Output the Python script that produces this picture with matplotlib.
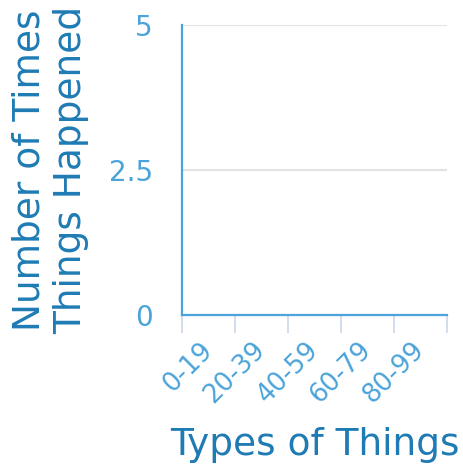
import numpy as np
import matplotlib
matplotlib.use('Agg')
import matplotlib.pyplot as plt
import matplotlib.transforms as mtransforms

categories = ['0-19', '20-39', '40-59', '60-79', '80-99']
counts = [0, 0, 0, 0, 0]
y_ticks = [0, 2.5, 5]
y_tick_labels = ['0', '2.5', '5']

label_color = '#1f7bb4'
tick_color = '#4aa3d9'
spine_color = '#4aa3d9'

fig = plt.figure(figsize=(4.64, 4.69), dpi=100)
ax = fig.add_axes([0.3922, 0.3284, 0.5711, 0.6183])

x = np.arange(len(categories))
ax.bar(x, counts, width=1.0, color=tick_color)

ax.set_xlim(-0.5, len(categories) - 0.5)
ax.set_ylim(0, 5)

# bin edges get the tick marks, bin centers get the labels
ax.set_xticks(np.arange(len(categories) + 1) - 0.5)
ax.set_xticklabels([])
ax.set_xticks(x, minor=True)
ax.set_xticklabels(categories, minor=True, rotation=45, ha='right',
                   fontsize=18.5, color=tick_color)
ax.tick_params(axis='x', which='major', length=13, width=1.1, color='#c8d3e6')
ax.tick_params(axis='x', which='minor', length=0, pad=16)
shift = mtransforms.ScaledTranslation(6.5 / 72, 0, fig.dpi_scale_trans)
for lbl in ax.get_xticklabels(minor=True):
    lbl.set_transform(lbl.get_transform() + shift)

ax.set_yticks(y_ticks)
ax.set_yticklabels(y_tick_labels, fontsize=20, color=tick_color)
ax.tick_params(axis='y', length=0, pad=21)

ax.grid(axis='y', color='#e3e3e3', linewidth=1.5)
ax.set_axisbelow(True)

for side in ['top', 'right']:
    ax.spines[side].set_visible(False)
for side in ['left', 'bottom']:
    ax.spines[side].set_color(spine_color)
    ax.spines[side].set_linewidth(1.6)

ax.set_xlabel('Types of Things', fontsize=27, color=label_color, labelpad=13)
ax.set_ylabel('Number of Times\nThings Happened', fontsize=27, color=label_color,
              labelpad=14, linespacing=1.2)

fig.savefig('out.png', dpi=100)
